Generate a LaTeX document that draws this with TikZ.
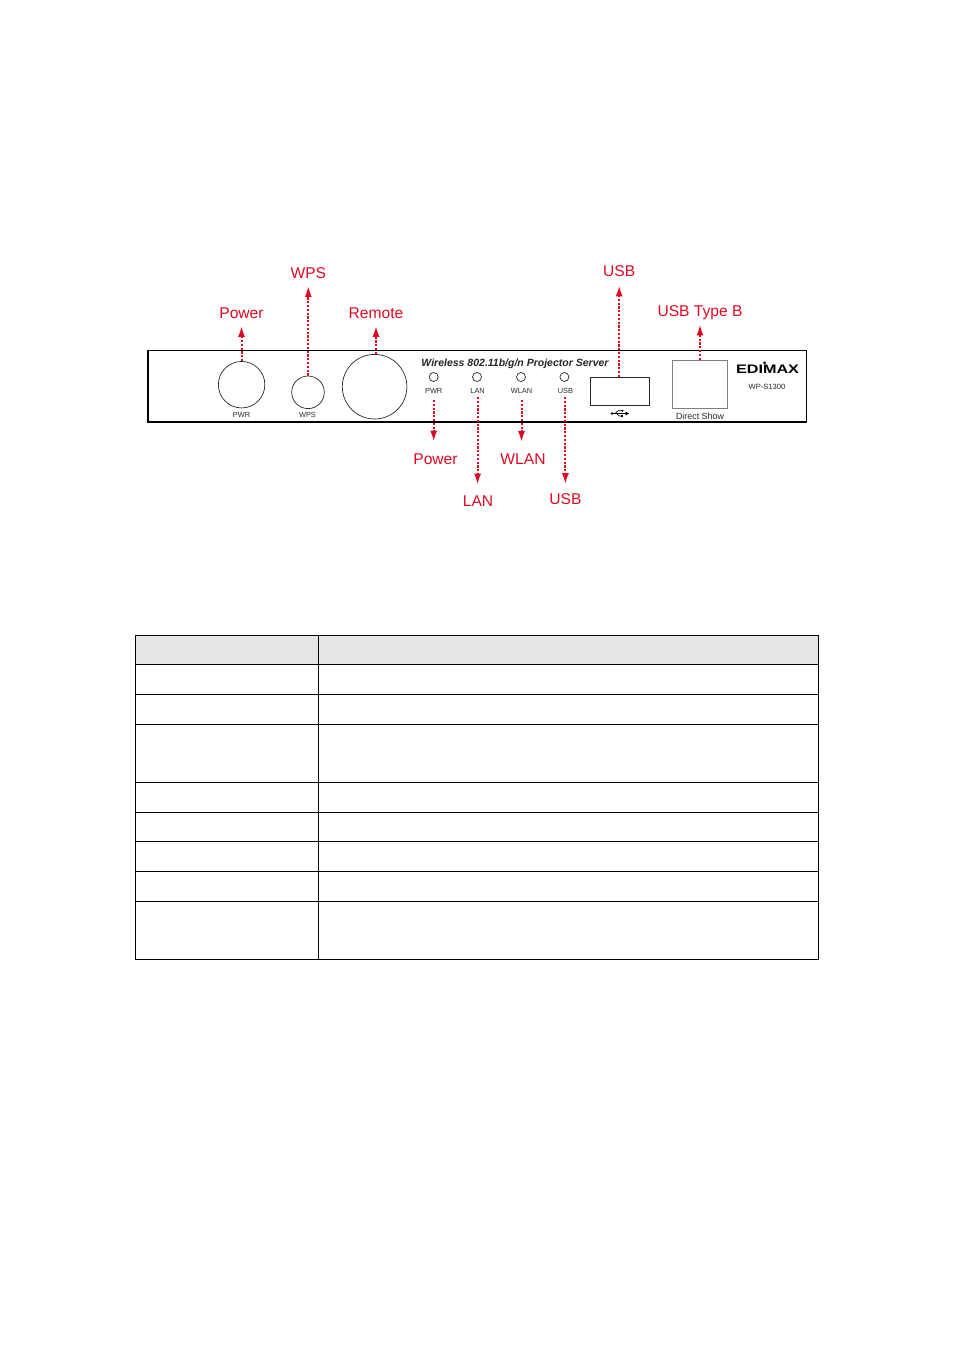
\documentclass[tikz,border=0pt]{standalone}
\usepackage{fontspec}
\setmainfont{Liberation Sans}
\usetikzlibrary{arrows.meta}
\definecolor{callred}{RGB}{222,10,35}
\definecolor{headgrey}{RGB}{229,229,229}
\definecolor{panelgrey}{RGB}{40,40,40}
\tikzset{
  redlabel/.style={inner sep=0pt, text height=11.2pt, text depth=0pt, text=callred, font=\fontsize{15.6}{17}\selectfont},
  smalltext/.style={inner sep=0pt, text height=5.4pt, text depth=0pt, text=panelgrey, font=\fontsize{7.4}{8}\selectfont},
  panelpart/.style={draw=panelgrey, line width=0.7pt, inner sep=0pt},
  callout/.style={draw=callred, line width=2pt, dash pattern=on 2.2pt off 1.6pt, -{Latex[length=11pt,width=7pt]}},
  tableline/.style={draw=black, line width=1pt}
}

\begin{document}
\begin{tikzpicture}[x=1pt, y=-1pt]
  \useasboundingbox (0,0) rectangle (954,1350);

  % Front panel
  \node[draw=black, line width=1.3pt, inner sep=0pt, minimum width=658.5pt, minimum height=71.5pt] (panel) at (477.25,386.25) {};

  % Buttons
  \node[panelpart, circle, minimum size=46.5pt] (pwrbtn) at (241.6,384.7) {};
  \node[panelpart, circle, minimum size=32.6pt] (wpsbtn) at (308,392.3) {};
  \node[panelpart, circle, minimum size=64.6pt] (remote) at (374.6,386.7) {};
  \node[smalltext] (pwrtxt) at (241.5,414.5) {PWR};
  \node[smalltext] (wpstxt) at (307.5,414.5) {WPS};

  % Title and LEDs
  \node[inner sep=0pt, text=black!85, font=\fontsize{10.5}{12}\selectfont\bfseries\itshape] (title) at (515,363.3) {Wireless 802.11b/g/n Projector Server};
  \node[panelpart, circle, minimum size=9pt] (pwrled) at (433.7,377) {};
  \node[panelpart, circle, minimum size=9pt] (lanled) at (477,377) {};
  \node[panelpart, circle, minimum size=9pt] (wlanled) at (521,377) {};
  \node[panelpart, circle, minimum size=9pt] (usbled) at (564.4,377) {};
  \node[smalltext] (pwrlt) at (433.7,391) {PWR};
  \node[smalltext] (lanlt) at (477.6,391) {LAN};
  \node[smalltext] (wlanlt) at (521.5,391) {WLAN};
  \node[smalltext] (usblt) at (565.4,391) {USB};

  % Ports
  \node[panelpart, minimum width=59pt, minimum height=28pt] (usbport) at (619.8,391.3) {};
  \node[panelpart, minimum width=54.6pt, minimum height=48.3pt, draw=gray] (typeb) at (700,384.2) {};
  \node[smalltext, font=\fontsize{8.9}{10}\selectfont] (dshow) at (700,416.8) {Direct Show};

  % USB symbol
  \draw[black, line width=0.9pt] (611.5,413.5) -- (626,413.5);
  \draw[black, line width=0.7pt] (615,413.5) -- (618,410.8) -- (622,410.8) (616.5,413.5) -- (619,416) -- (622,416);
  \fill[black] (612,413.5) circle (1.4pt);
  \fill[black] (629,413.5) -- (625.5,411.5) -- (625.5,415.5) -- cycle;
  \fill[black] (622.5,410.8) circle (1.1pt);
  \fill[black] (621,414.9) rectangle (623.2,417.1);

  % Logo
  \node[inner sep=0pt, text=black, font=\fontsize{11.5}{12}\selectfont\bfseries] (logo) at (767.5,369.7) {\resizebox{63pt}{8.5pt}{EDIMAX}};
  \fill[black] (764.5,362.8) circle (1.5pt);
  \node[smalltext, font=\fontsize{7.6}{9}\selectfont] (model) at (767,387) {WP-S1300};

  % Labels above
  \node[redlabel] (powerup) at (241.5,313) {Power};
  \node[redlabel] (wpsup) at (308.3,273) {WPS};
  \node[redlabel] (remoteup) at (376,313) {Remote};
  \node[redlabel] (usbup) at (619.2,271) {USB};
  \node[redlabel] (typebup) at (700,311) {USB Type B};

  % Labels below
  \node[redlabel] (powerdn) at (435.5,459) {Power};
  \node[redlabel] (landn) at (478,501) {LAN};
  \node[redlabel] (wlandn) at (523,459) {WLAN};
  \node[redlabel] (usbdn) at (565.5,499) {USB};

  % Arrows up
  \draw[callout, shorten >=7pt] (powerup.south |- pwrbtn.north) -- (powerup.south);
  \draw[callout, shorten >=7pt] (wpsup.south |- wpsbtn.north) -- (wpsup.south);
  \draw[callout, shorten >=7pt] (remoteup.south |- remote.north) -- (remoteup.south);
  \draw[callout, shorten >=8.5pt] (usbup.south |- usbport.north) -- (usbup.south);
  \draw[callout, shorten >=7.5pt] (typebup.south |- typeb.north) -- (typebup.south);

  % Arrows down
  \draw[callout, shorten <=6pt, shorten >=11.5pt] (pwrlt.south) -- (pwrlt.south |- powerdn.north);
  \draw[callout, shorten <=3pt, shorten >=10.5pt] (lanlt.south) -- (lanlt.south |- landn.north);
  \draw[callout, shorten <=6pt, shorten >=11pt] (wlanlt.south) -- (wlanlt.south |- wlandn.north);
  \draw[callout, shorten <=3pt, shorten >=9pt] (usblt.south) -- (usblt.south |- usbdn.north);

  % Table
  \fill[headgrey] (135.5,635) rectangle (818.5,664.5);
  \foreach \rowy in {635,664.5,694.5,724.5,782.5,812.5,841.5,871.5,901.5,959.5}
    \draw[tableline] (135,\rowy) -- (819,\rowy);
  \foreach \colx in {135.5,318.5,818.5}
    \draw[tableline] (\colx,635) -- (\colx,959.5);
\end{tikzpicture}
\end{document}
